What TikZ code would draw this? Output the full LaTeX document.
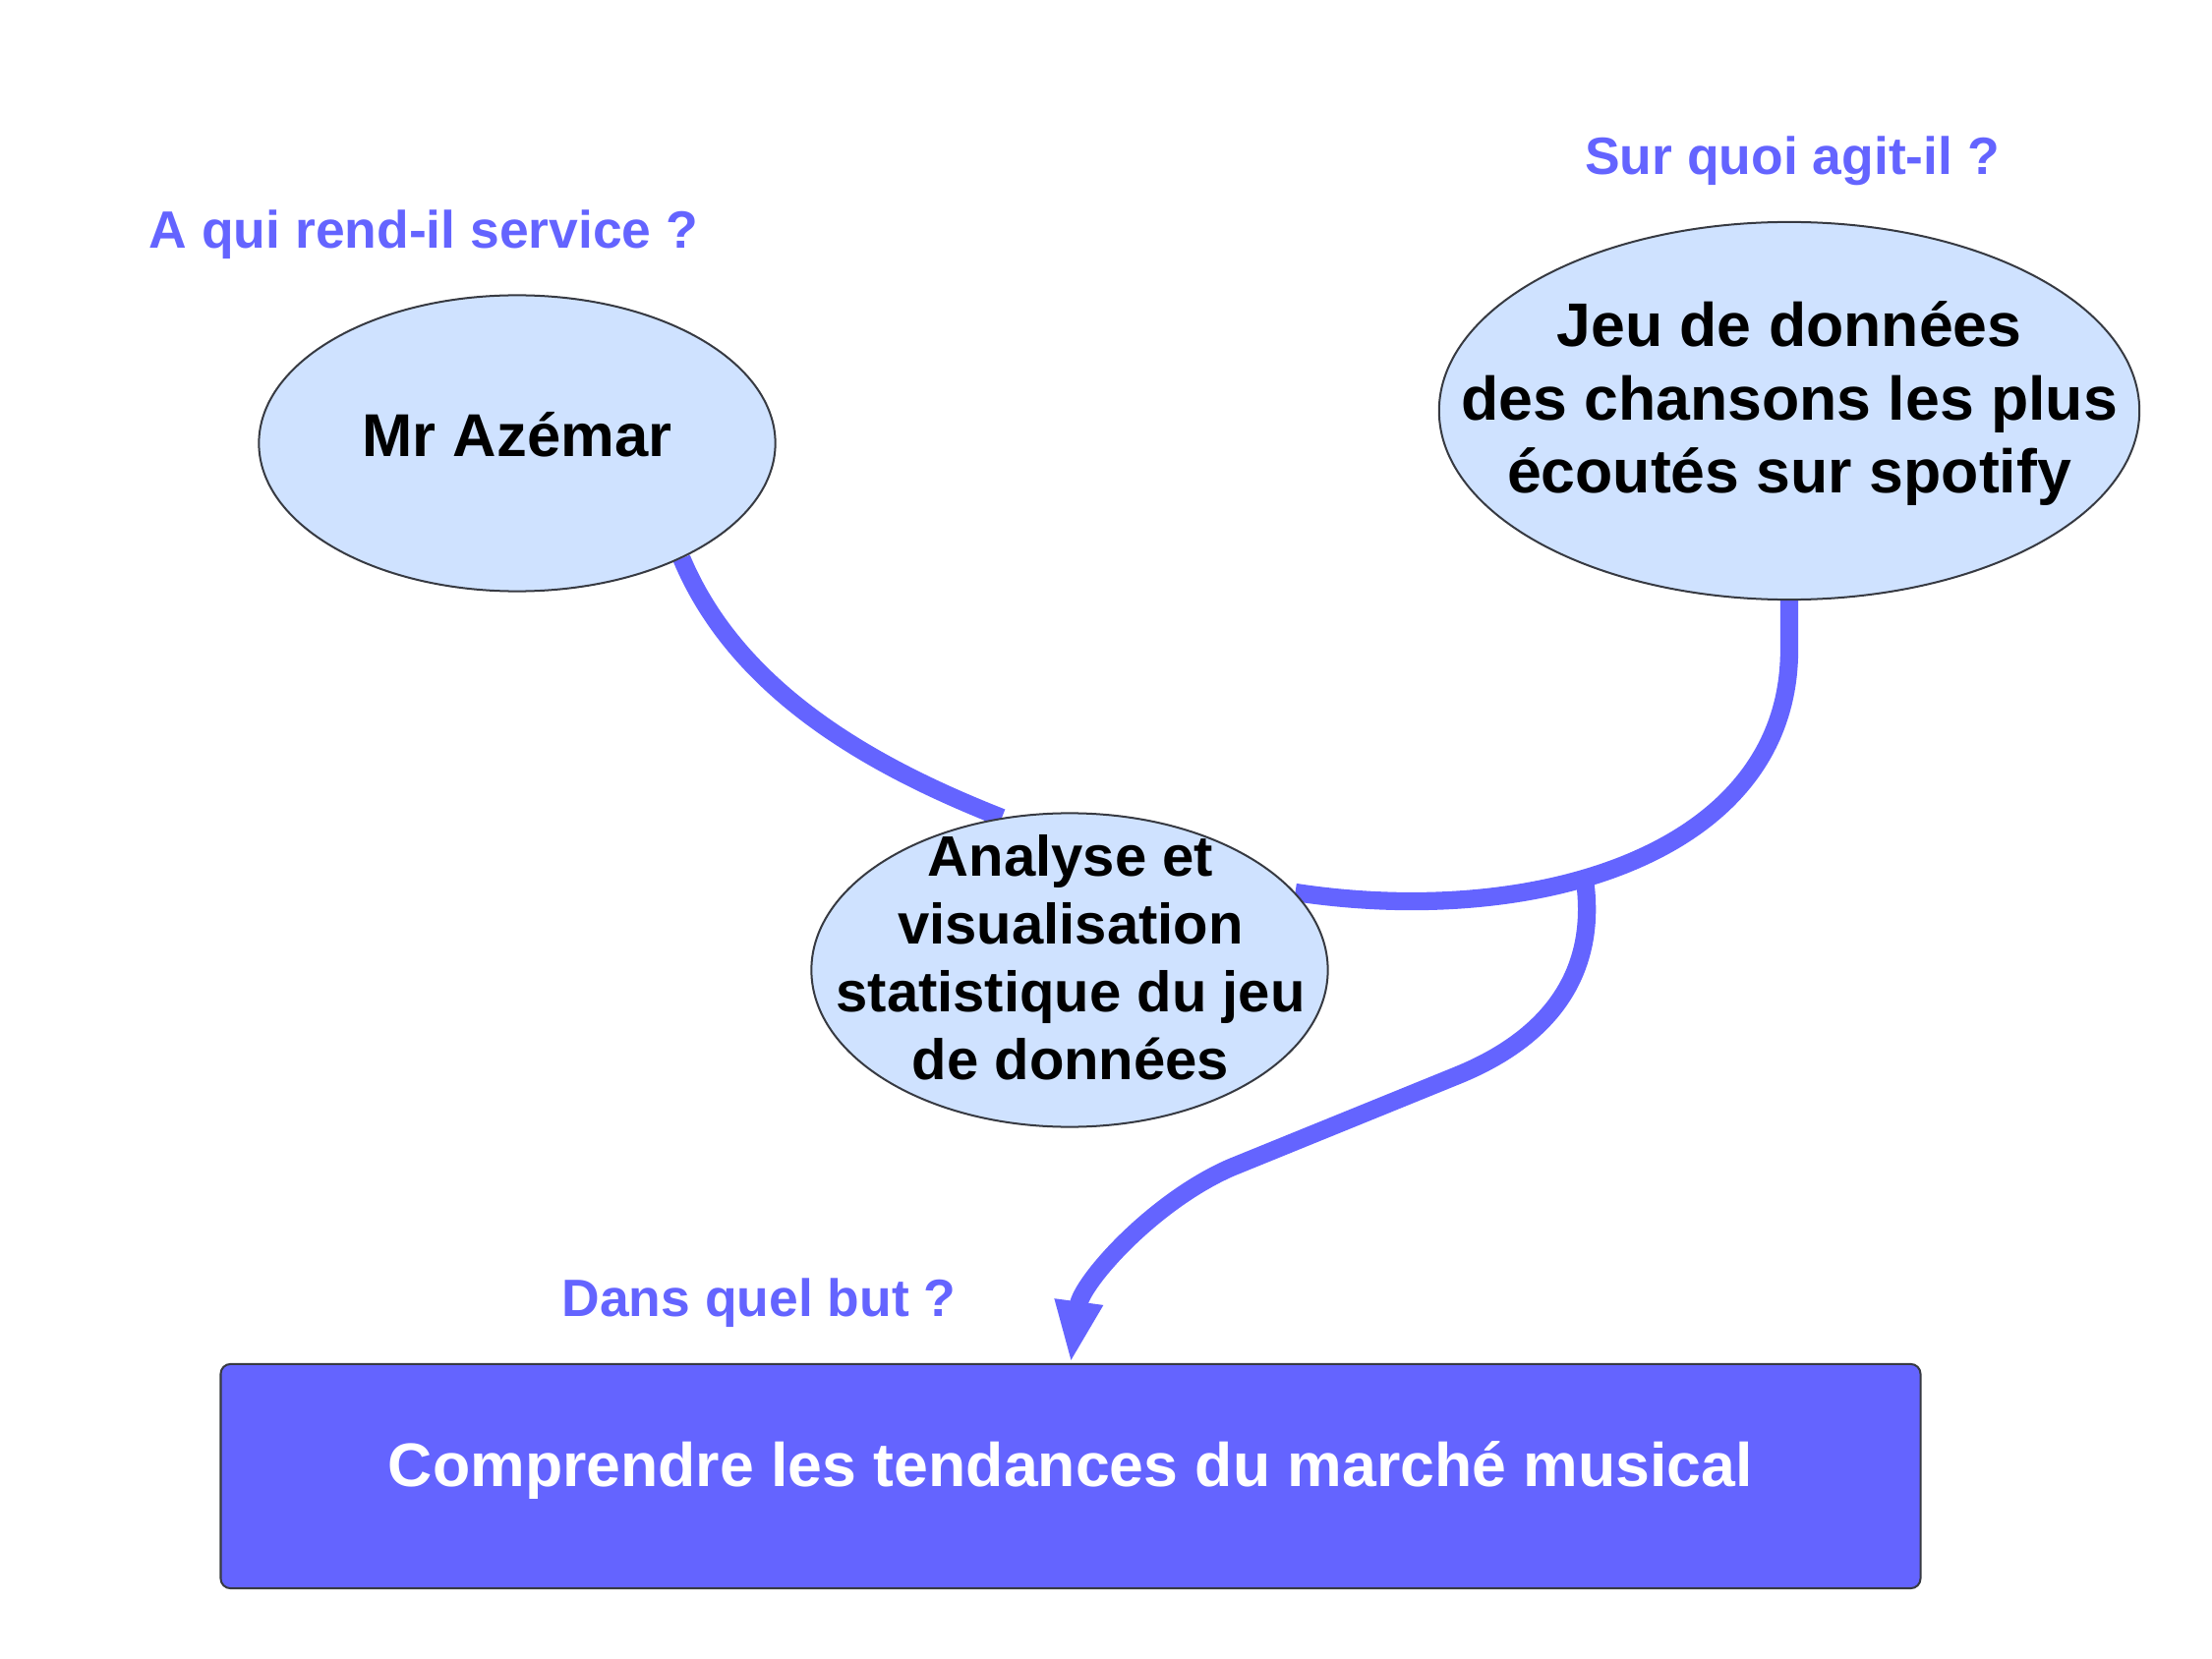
\documentclass[tikz,border=0pt]{standalone}
\usepackage{fontspec}
\setmainfont{Liberation Sans}
\usetikzlibrary{shapes.geometric,arrows.meta}
\pgfdeclarelayer{bg}
\pgfsetlayers{bg,main}
\definecolor{myblue}{RGB}{100,100,255}
\definecolor{elfill}{RGB}{207,226,255}
\definecolor{edgegray}{RGB}{55,58,66}
\begin{document}
\begin{tikzpicture}[x=0.01cm,y=-0.01cm,
  bubble/.style={ellipse, draw=edgegray, line width=0.57pt, fill=elfill, inner sep=0pt},
  link/.style={draw=myblue, line width=5.2pt},
  question/.style={text=myblue, font=\fontsize{15.2}{18}\selectfont\bfseries, anchor=base, inner sep=0pt},
  bubbletext/.style={anchor=base, inner sep=0pt, text=black}]
\useasboundingbox (0,0) rectangle (2250,1688);

\node[bubble, minimum width=5.25cm, minimum height=3.01cm] (az) at (526,451) {};
\node[bubble, minimum width=7.12cm, minimum height=3.84cm] (je) at (1820,418) {};
\node[bubble, minimum width=5.25cm, minimum height=3.19cm] (an) at (1088,987) {};
\node[draw=edgegray, line width=0.57pt, fill=myblue, rounded corners=2.8pt,
      minimum width=17.28cm, minimum height=2.28cm, inner sep=0pt] (goal) at (1089,1502) {};

\node[bubbletext, font=\fontsize{17.5}{21}\selectfont\bfseries] (azT) at (526,465) {Mr Azémar};
\node[bubbletext, font=\fontsize{17.8}{21.05}\selectfont\bfseries] (jeT) at (1820,353)
  {\begin{tabular}[t]{@{}c@{}}Jeu de données\\des chansons les plus\\écoutés sur spotify\end{tabular}};
\node[bubbletext, font=\fontsize{16.5}{19.7}\selectfont\bfseries] (anT) at (1089,891)
  {\begin{tabular}[t]{@{}c@{}}Analyse et\\visualisation\\statistique du jeu\\de données\end{tabular}};
\node[anchor=base, inner sep=0pt, text=white, font=\fontsize{17.8}{21}\selectfont\bfseries] (goalT) at (1089,1512)
  {Comprendre les tendances du marché musical};

\node[question] (q1) at (431,253) {A qui rend-il service ?};
\node[question] (q2) at (1823,178) {Sur quoi agit-il ?};
\node[question] (q3) at (772,1339) {Dans quel but ?};

\begin{pgfonlayer}{bg}
\draw[link] (az.-35) .. controls (751,706) and (892,782) .. (an.114);
\draw[link] (je.south) -- ++(0,50) .. controls (1820,870) and (1560,945) .. (an.19.5) coordinate[pos=0.58] (br);
\draw[link, -{Triangle[length=17.9pt,width=12.8pt]}] (br) .. controls (1626,990) and (1576,1056) .. (1483,1094)
  -- (1252,1188) .. controls (1172,1223) and (1100,1305) .. (goal.north);
\end{pgfonlayer}
\end{tikzpicture}
\end{document}
